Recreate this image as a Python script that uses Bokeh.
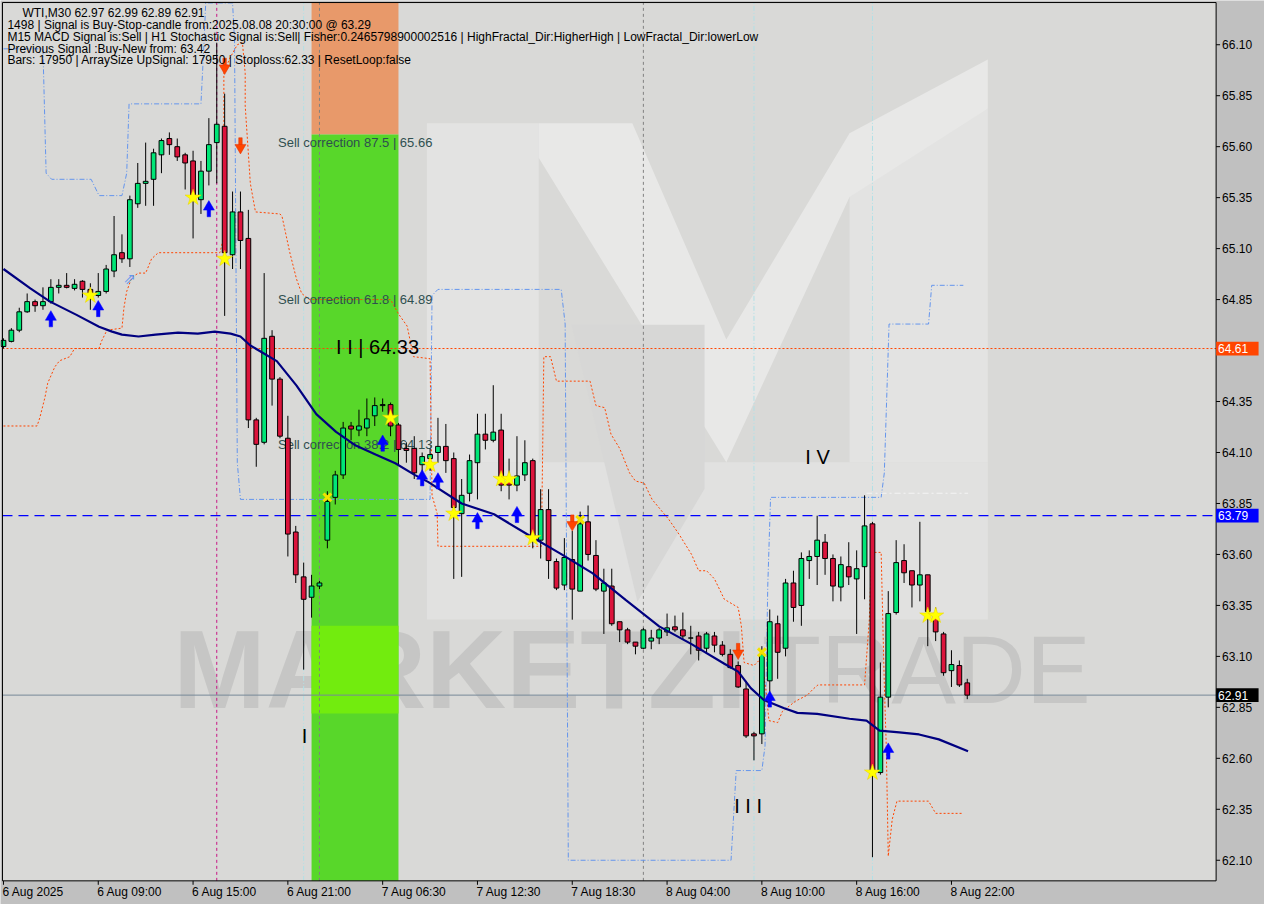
from bokeh.plotting import figure
from bokeh.models import Range1d
from bokeh.core.properties import value
from bokeh.embed import file_html
from bokeh.resources import INLINE

# ---------------- data ----------------
opens = [64.62, 64.645, 64.70, 64.79, 64.84, 64.82, 64.84, 64.91, 64.92, 64.905,
         64.94, 64.90, 64.87, 64.89, 64.99, 65.08, 65.05, 65.32, 65.42, 65.44,
         65.56, 65.64, 65.60, 65.56, 65.53, 65.34, 65.48, 65.62, 65.70, 65.07,
         65.28, 65.15, 64.26, 64.15, 64.67, 64.46, 64.17, 63.71, 63.49, 63.39,
         63.445, 63.67, 63.88, 63.99, 64.23, 64.21, 64.22, 64.28, 64.33, 64.335,
         64.235, 64.12, 64.12, 64.04, 64.07, 64.10, 64.13, 64.07, 63.80, 63.90,
         64.05, 64.19, 64.16, 64.21, 63.965, 63.94, 63.99, 64.06, 63.67, 63.82,
         63.565, 63.45, 63.575, 63.42, 63.76, 63.595, 63.42, 63.445, 63.27, 63.23,
         63.17, 63.14, 63.175, 63.19, 63.22, 63.245, 63.23, 63.19, 63.20, 63.14,
         63.20, 63.155, 63.11, 63.055, 62.94, 62.72, 62.72, 62.98, 63.26, 63.14,
         63.46, 63.35, 63.57, 63.59, 63.66, 63.58, 63.44, 63.54, 63.48, 63.54,
         63.75, 62.53, 62.90, 63.315, 63.57, 63.52, 63.45, 63.50, 63.305, 63.21,
         63.03, 63.055, 62.97]
highs = [64.66, 64.71, 64.81, 64.88, 64.85, 64.91, 64.95, 64.95, 64.98, 64.95,
         64.945, 64.93, 64.98, 65.02, 65.26, 65.17, 65.36, 65.52, 65.62, 65.59,
         65.64, 65.67, 65.64, 65.57, 65.58, 65.53, 65.74, 66.11, 65.86, 65.38,
         65.38, 65.29, 64.27, 64.98, 64.70, 64.47, 64.28, 63.74, 63.56, 63.50,
         63.47, 63.91, 64.01, 64.25, 64.25, 64.31, 64.365, 64.37, 64.365, 64.345,
         64.245, 64.15, 64.18, 64.10, 64.12, 64.27, 64.24, 64.10, 63.97, 64.09,
         64.29, 64.29, 64.43, 64.29, 64.07, 64.18, 64.16, 64.07, 63.92, 63.92,
         63.58, 63.68, 63.715, 63.81, 63.84, 63.67, 63.53, 63.53, 63.27, 63.24,
         63.17, 63.24, 63.23, 63.24, 63.31, 63.30, 63.315, 63.25, 63.22, 63.22,
         63.22, 63.175, 63.135, 63.075, 62.98, 62.73, 63.15, 63.33, 63.30, 63.48,
         63.52, 63.61, 63.62, 63.79, 63.70, 63.60, 63.59, 63.66, 63.62, 63.89,
         63.76, 63.07, 63.42, 63.67, 63.65, 63.52, 63.76, 63.50, 63.34, 63.22,
         63.13, 63.08, 62.99]
lows = [64.61, 64.64, 64.69, 64.785, 64.79, 64.80, 64.83, 64.88, 64.905, 64.895,
        64.86, 64.80, 64.86, 64.88, 64.96, 65.03, 65.01, 65.30, 65.31, 65.31,
        65.47, 65.56, 65.53, 65.39, 65.15, 65.27, 65.41, 65.42, 64.77, 65.00,
        65.00, 64.22, 64.03, 64.14, 64.33, 64.17, 63.59, 63.46, 63.035, 63.29,
        63.43, 63.63, 63.845, 63.97, 64.16, 64.18, 64.18, 64.23, 64.30, 64.18,
        64.04, 64.05, 63.97, 63.97, 64.01, 64.05, 64.00, 63.48, 63.49, 63.86,
        63.87, 64.115, 64.15, 63.91, 63.87, 63.91, 63.96, 63.63, 63.58, 63.48,
        63.425, 63.425, 63.28, 63.42, 63.57, 63.42, 63.21, 63.25, 63.17, 63.16,
        63.11, 63.135, 63.135, 63.16, 63.20, 63.22, 63.185, 63.11, 63.08, 63.12,
        63.12, 63.10, 63.04, 62.945, 62.70, 62.59, 62.67, 62.895, 62.99, 63.10,
        63.27, 63.25, 63.48, 63.45, 63.50, 63.37, 63.37, 63.45, 63.21, 63.38,
        62.115, 62.52, 62.85, 63.305, 63.46, 63.34, 63.37, 63.15, 63.175, 63.005,
        62.95, 62.95, 62.89]
closes = [64.65, 64.70, 64.79, 64.84, 64.82, 64.84, 64.91, 64.92, 64.91, 64.925,
          64.90, 64.87, 64.89, 65.00, 65.07, 65.05, 65.34, 65.42, 65.43, 65.57,
          65.63, 65.61, 65.55, 65.52, 65.36, 65.48, 65.61, 65.71, 65.08, 65.28,
          65.14, 64.26, 64.14, 64.66, 64.46, 64.18, 63.70, 63.50, 63.38, 63.445,
          63.46, 63.86, 63.99, 64.22, 64.215, 64.23, 64.265, 64.33, 64.335, 64.23,
          64.115, 64.11, 64.00, 64.08, 64.09, 64.13, 64.06, 63.83, 63.89, 64.06,
          64.19, 64.16, 64.20, 63.94, 63.94, 63.985, 64.05, 63.69, 63.82, 63.57,
          63.435, 63.585, 63.43, 63.75, 63.60, 63.43, 63.46, 63.26, 63.23, 63.17,
          63.15, 63.23, 63.19, 63.23, 63.24, 63.23, 63.20, 63.19, 63.13, 63.21,
          63.155, 63.11, 63.045, 62.95, 62.71, 62.71, 63.11, 63.27, 63.12, 63.46,
          63.34, 63.58, 63.59, 63.67, 63.58, 63.445, 63.55, 63.49, 63.53, 63.74,
          62.52, 62.90, 63.31, 63.56, 63.51, 63.45, 63.50, 63.32, 63.22, 63.02,
          63.06, 62.96, 62.91]
assert len(opens) == len(highs) == len(lows) == len(closes) == 123
bars = list(range(len(opens)))

# moving average (knots)
ma_bar = [0, 3.4, 5.9, 9.25, 12.1, 13.75, 15, 17.1, 19.25, 22.1,
          24.6, 26.75, 28.75, 30, 31.25, 34.6, 37.1, 39.6, 42.1, 44.6,
          47.1, 49.6, 52.1, 53.75, 58, 62.1, 66.25, 70.5, 74.6, 78.75,
          83, 87.1, 91.25, 93, 94.6, 96.25, 98.75, 100.5, 103, 107.1,
          109.25, 110.9, 113.4, 115.9, 118.4, 122.1]
ma_val = [65.00, 64.905, 64.84, 64.775, 64.717, 64.693, 64.678, 64.669, 64.678, 64.688,
          64.683, 64.693, 64.683, 64.669, 64.625, 64.548, 64.428, 64.288, 64.201, 64.134,
          64.090, 64.047, 63.989, 63.956, 63.850, 63.797, 63.700, 63.604, 63.507, 63.377,
          63.247, 63.160, 63.064, 63.025, 62.944, 62.886, 62.847, 62.823, 62.818, 62.794,
          62.785, 62.736, 62.727, 62.717, 62.693, 62.635]

# blue dash-dot stepped channel
blue_bar = [0, 5, 5.4, 6.1, 11.1, 12.1, 15, 15.6, 15.9, 25,
            25.4, 25.6, 29, 29.25, 29.6, 30, 54, 54.25, 55, 70.6,
            71.1, 71.5, 92.1, 92.75, 96, 96.4, 96.75, 97.1, 111.1, 111.5,
            112.1, 117.1, 117.5, 121.5]
blue_val = [66.08, 66.08, 65.47, 65.44, 65.44, 65.36, 65.36, 65.47, 65.81, 65.81,
            66.12, 66.305, 66.305, 66.12, 64.05, 63.87, 63.87, 64.87, 64.90, 64.90,
            64.73, 62.10, 62.10, 62.54, 62.54, 62.66, 63.45, 63.88, 63.88, 64.00,
            64.73, 64.73, 64.92, 64.92]

# orange-red dotted trailing line
orange_bar = [0, 4.25, 4.6, 5.25, 5.6, 6.5, 7.1, 8.4, 9, 12.1,
              12.4, 13.1, 15, 15.25, 15.6, 16.25, 17.1, 18, 18.75, 19.6,
              27.4, 27.9, 27.9, 28.6, 29.6, 30.25, 30.6, 30.6, 31.25, 31.9,
              35, 35.25, 36.25, 37.1, 37.75, 38.75, 49, 50, 51.1, 51.9,
              54, 54.25, 54.9, 55, 68.1, 68.4, 69.25, 70, 74.25, 75,
              76.1, 76.9, 78, 79.25, 80, 81.1, 82.1, 84.25, 85.5, 87.1,
              88, 89, 90, 91.25, 93, 93.4, 93.75, 95, 95.9, 96.5,
              96.9, 98, 98.6, 100.25, 101.75, 102.5, 103.1, 109, 109.6, 109.9,
              111.1, 111.5, 111.75, 112, 112.5, 113.1, 117.1, 118, 121.5]
orange_val = [64.23, 64.23, 64.27, 64.37, 64.44, 64.52, 64.55, 64.57, 64.61, 64.61,
              64.645, 64.70, 64.71, 64.81, 64.89, 64.96, 64.98, 64.98, 65.05, 65.08,
              65.08, 65.16, 65.96, 66.03, 66.10, 66.11, 65.96, 65.80, 65.42, 65.28,
              65.27, 65.26, 65.08, 64.95, 64.88, 64.85, 64.85, 64.78, 64.72, 64.57,
              64.56, 63.89, 63.80, 63.64, 63.64, 64.57, 64.57, 64.45, 64.45, 64.33,
              64.32, 64.19, 64.12, 64.00, 63.96, 63.95, 63.87, 63.77, 63.70, 63.60,
              63.52, 63.52, 63.48, 63.38, 63.34, 63.25, 63.07, 63.055, 63.09, 62.94,
              62.785, 62.775, 62.83, 62.88, 62.91, 62.94, 62.96, 62.96, 63.28, 63.61,
              63.61, 62.96, 62.655, 62.12, 62.30, 62.39, 62.39, 62.33, 62.33]
assert len(orange_bar) == len(orange_val) and len(blue_bar) == len(blue_val)

white_bar = [109.25, 122.1]
white_val = [63.90, 63.90]

# signals
buy_bar = [6, 12, 26, 48, 53, 55, 60, 65, 97, 112]
buy_val = [64.75, 64.80, 65.29, 64.14, 63.97, 63.955, 63.76, 63.79, 62.885, 62.63]
hollow_bar = [16]
hollow_val = [64.95]
sell_bar = [28, 30, 72, 93]
sell_val = [66.00, 65.61, 63.76, 63.13]
star_bar = [11, 24, 28, 49, 54, 57, 63, 64, 67, 110, 117, 118]
star_val = [64.87, 65.35, 65.05, 64.27, 64.04, 63.80, 63.97, 63.97, 63.68, 62.53, 63.30, 63.30]
cross_bar = [41, 73, 96]
cross_val = [63.88, 63.77, 63.12]

# levels
level_orange = 64.61
level_blue = 63.79
level_last = 62.91
vlines_magenta = [27]
vlines_gray = [40, 81]
vlines_cyan = [38, 95, 110]

# zones
zone_left, zone_right = 39, 50
zone_green_top = 65.66

# fibonacci texts
fib_texts = ["Sell correction 87.5 | 65.66", "Sell correction 61.8 | 64.89", "Sell correction 38.2 | 64.13"]
fib_val = [65.62, 64.85, 64.14]
fib_bar = 34.75

wave_texts = ["I I | 64.33", "I V", "I I I", "I"]
wave_bar = [42.1, 101.5, 92.5, 37.75]
wave_val = [64.616, 64.076, 62.365, 62.708]

header_lines = ["WTI,M30  62.97 62.99 62.89 62.91",
                "1498 | Signal is Buy-Stop-candle from:2025.08.08 20:30:00 @ 63.29",
                "M15 MACD Signal is:Sell | H1 Stochastic Signal is:Sell| Fisher:0.2465798900002516 | HighFractal_Dir:HigherHigh | LowFractal_Dir:lowerLow",
                "Previous Signal :Buy-New from: 63.42",
                "Bars: 17950 | ArraySize UpSignal: 17950 | Stoploss:62.33 | ResetLoop:false"]
header_bar = [2.4, 0.5, 0.5, 0.5, 0.5]
header_val = [66.254, 66.197, 66.139, 66.081, 66.023]

x_tick_bars = [0, 12, 24, 36, 48, 60, 72, 84, 96, 108, 120]
x_tick_labels = ["6 Aug 2025", "6 Aug 09:00", "6 Aug 15:00", "6 Aug 21:00", "7 Aug 06:30",
                 "7 Aug 12:30", "7 Aug 18:30", "8 Aug 04:00", "8 Aug 10:00", "8 Aug 16:00",
                 "8 Aug 22:00"]
y_ticks = [62.10, 62.35, 62.60, 62.85, 63.10, 63.35, 63.60, 63.85, 64.10,
           64.35, 64.60, 64.85, 65.10, 65.35, 65.60, 65.85, 66.10]
price_tags = [level_orange, level_blue, level_last]
price_tag_colors = ["#ff4500", "#0000ff", "#000000"]

# watermark logo shapes (bar, price)
logo_left_x = [53.6, 67.75, 67.75, 53.6]
logo_left_y = [65.715, 65.715, 64.052, 64.052]
logo_right_x = [107.1, 124.6, 124.6, 107.1]
logo_right_y = [65.666, 65.787, 64.052, 64.052]
logo_chev_x = [67.75, 79.6, 91.5, 107.1, 124.6, 124.6, 107.1, 91.5, 67.75]
logo_chev_y = [65.715, 65.715, 64.654, 65.666, 66.028, 65.787, 65.353, 64.052, 65.546]
logo_low_x = [53.6, 124.6, 124.6, 53.6]
logo_low_y = [64.052, 64.052, 63.281, 63.281]
logo_v_x = [71.9, 88.75, 88.75, 80.25]
logo_v_y = [64.727, 64.727, 63.922, 63.368]

# ---------------- layout constants ----------------
FL, FR = -0.125, 153.5          # chart frame left/right (bars)
FB, FT = 61.999, 66.307         # chart frame bottom/top (price)
FONT = value("Liberation Sans")
PX = 1.0 / 207.5                # one pixel in price units
BX = 1.0 / 8.0                  # one pixel in bar units

p = figure(width=1264, height=904, output_backend="svg", toolbar_location=None,
           x_range=Range1d(-0.375, 159.625), y_range=Range1d(61.883, 66.317),
           x_axis_location=None, y_axis_location=None, min_border=0)
p.background_fill_color = "#c0c0c0"
p.border_fill_color = "#c0c0c0"
p.outline_line_color = None
p.xgrid.visible = False
p.ygrid.visible = False

# chart frame background
p.quad(left=[FL], right=[FR], top=[FT], bottom=[FB], fill_color="#d9d9d7", line_color=None)

# logo
for xs, ys, col in [(logo_low_x, logo_low_y, "#e1e1e0"), (logo_left_x, logo_left_y, "#e3e3e2"),
                    (logo_right_x, logo_right_y, "#e3e3e2"), (logo_chev_x, logo_chev_y, "#e8e8e7"),
                    (logo_v_x, logo_v_y, "#d7d7d6")]:
    p.patch(xs, ys, fill_color=col, line_color=None)

# watermark text
p.text(x=[21.5], y=[63.035], text=["MARKETZI"], text_font=FONT, text_font_style="bold",
       text_font_size="111px", text_color="#c6c6c5", text_align="left", text_baseline="middle")
p.text(x=[96.0], y=[63.035], text=["TRADE"], text_font=FONT, text_font_size="97px",
       text_color="#c6c6c5", text_align="left", text_baseline="middle")

# zones
p.quad(left=[zone_left], right=[zone_right], top=[FT], bottom=[zone_green_top],
       fill_color="#e8996a", line_color=None)
p.quad(left=[zone_left], right=[zone_right], top=[zone_green_top], bottom=[FB],
       fill_color="#58d72a", line_color=None)
p.quad(left=[zone_left], right=[zone_right], top=[63.25], bottom=[62.82],
       fill_color="#72ec0e", line_color=None)

# vertical lines
p.segment(x0=vlines_magenta, x1=vlines_magenta, y0=[FB] * len(vlines_magenta), y1=[FT] * len(vlines_magenta),
          line_color="#c71585", line_dash="3 3", line_width=1)
p.segment(x0=vlines_gray, x1=vlines_gray, y0=[FB] * len(vlines_gray), y1=[FT] * len(vlines_gray),
          line_color="#808080", line_dash="3 3", line_width=1)
p.segment(x0=vlines_cyan, x1=vlines_cyan, y0=[FB] * len(vlines_cyan), y1=[FT] * len(vlines_cyan),
          line_color="#b0e0e6", line_dash="5 2 1 2", line_width=1)

# horizontal levels
p.segment(x0=[FL], x1=[FR], y0=[level_orange], y1=[level_orange], line_color="#ff4500", line_dash="2 2", line_width=1)
p.segment(x0=[FL], x1=[FR], y0=[level_blue], y1=[level_blue], line_color="#0000ff", line_dash="10 6", line_width=1.2)
p.segment(x0=[FL], x1=[FR], y0=[level_last], y1=[level_last], line_color="#778899", line_width=1)

# channels
p.line(blue_bar, blue_val, line_color="#6495ed", line_dash="5 2 1 2", line_width=1)
p.line(orange_bar, orange_val, line_color="#ff4500", line_dash="2 2", line_width=1)
p.line(white_bar, white_val, line_color="#f4f4f4", line_dash="6 3 2 3", line_width=1)

# fibonacci texts
p.text(x=[fib_bar] * 3, y=fib_val, text=fib_texts, text_font=FONT, text_font_size="13px",
       text_color="#2f4f4f", text_align="left", text_baseline="middle")

# candles
tops = [max(o, c) for o, c in zip(opens, closes)]
bottoms = [min(o, c) for o, c in zip(opens, closes)]
colors = ["#00e676" if c >= o else "#dc143c" for o, c in zip(opens, closes)]
p.segment(x0=bars, y0=lows, x1=bars, y1=highs, line_color="black", line_width=1)
p.vbar(x=bars, top=tops, bottom=bottoms, width=0.6, fill_color=colors, line_color="black", line_width=1)

# moving average
p.line(ma_bar, ma_val, line_color="#000080", line_width=2.2)

# wave labels
p.text(x=wave_bar, y=wave_val, text=wave_texts, text_font=FONT, text_font_size="20px",
       text_color="black", text_align="left", text_baseline="middle")

# signals
p.scatter(star_bar, star_val, marker="star", size=17, fill_color="#ffff00", line_color="#e8d000", line_width=0.5)
p.scatter(cross_bar, cross_val, marker="x", size=11, line_color="#f2e200", line_width=3)
# buy arrows (blue, pointing up)
p.vbar(x=buy_bar, top=[v + 2 * PX for v in buy_val], bottom=[v - 7 * PX for v in buy_val],
       width=3.5 * BX, fill_color="#0000ff", line_color="#0000ff", line_width=0.5)
p.scatter(buy_bar, [v + 3 * PX for v in buy_val], marker="triangle", size=11,
          fill_color="#0000ff", line_color="#0000ff", line_width=0.5)
p.text(x=hollow_bar, y=hollow_val, text=["\u21d7"], text_font=value("DejaVu Sans"),
       text_font_size="15px", text_color="#6495ed", text_align="center", text_baseline="middle")
# sell arrows (orange-red, pointing down)
p.vbar(x=sell_bar, top=[v + 7 * PX for v in sell_val], bottom=[v - 2 * PX for v in sell_val],
       width=3.5 * BX, fill_color="#ff4500", line_color="#e03000", line_width=0.5)
p.scatter(sell_bar, [v - 3 * PX for v in sell_val], marker="inverted_triangle", size=11,
          fill_color="#ff4500", line_color="#e03000", line_width=0.5)

# header
p.text(x=header_bar, y=header_val, text=header_lines, text_font=FONT, text_font_size="12px",
       text_color="black", text_align="left", text_baseline="middle")

# chart frame outline
p.quad(left=[FL], right=[FR], top=[FT], bottom=[FB], fill_color=None, line_color="black", line_width=1)

# price axis (right)
p.segment(x0=[FR] * len(y_ticks), x1=[FR + 4 * BX] * len(y_ticks), y0=y_ticks, y1=y_ticks,
          line_color="black", line_width=1)
p.text(x=[FR + 6 * BX] * len(y_ticks), y=y_ticks, text=["%.2f" % t for t in y_ticks],
       text_font=FONT, text_font_size="12px", text_color="black", text_align="left", text_baseline="middle")

# time axis (bottom)
p.segment(x0=x_tick_bars, x1=x_tick_bars, y0=[FB] * len(x_tick_bars), y1=[FB - 4 * PX] * len(x_tick_bars),
          line_color="black", line_width=1)
p.text(x=[b - BX for b in x_tick_bars], y=[FB - 11 * PX] * len(x_tick_bars), text=x_tick_labels,
       text_font=FONT, text_font_size="12px", text_color="black", text_align="left", text_baseline="middle")

# price tags
p.quad(left=[FR] * 3, right=[FR + 43 * BX] * 3, top=[v + 7 * PX for v in price_tags],
       bottom=[v - 7 * PX for v in price_tags], fill_color=price_tag_colors, line_color=None)
p.text(x=[FR + 2 * BX] * 3, y=price_tags, text=["%.2f" % v for v in price_tags],
       text_font=FONT, text_font_size="12px", text_color="white", text_align="left", text_baseline="middle")

open("out.html", "w").write(file_html(p, INLINE))
